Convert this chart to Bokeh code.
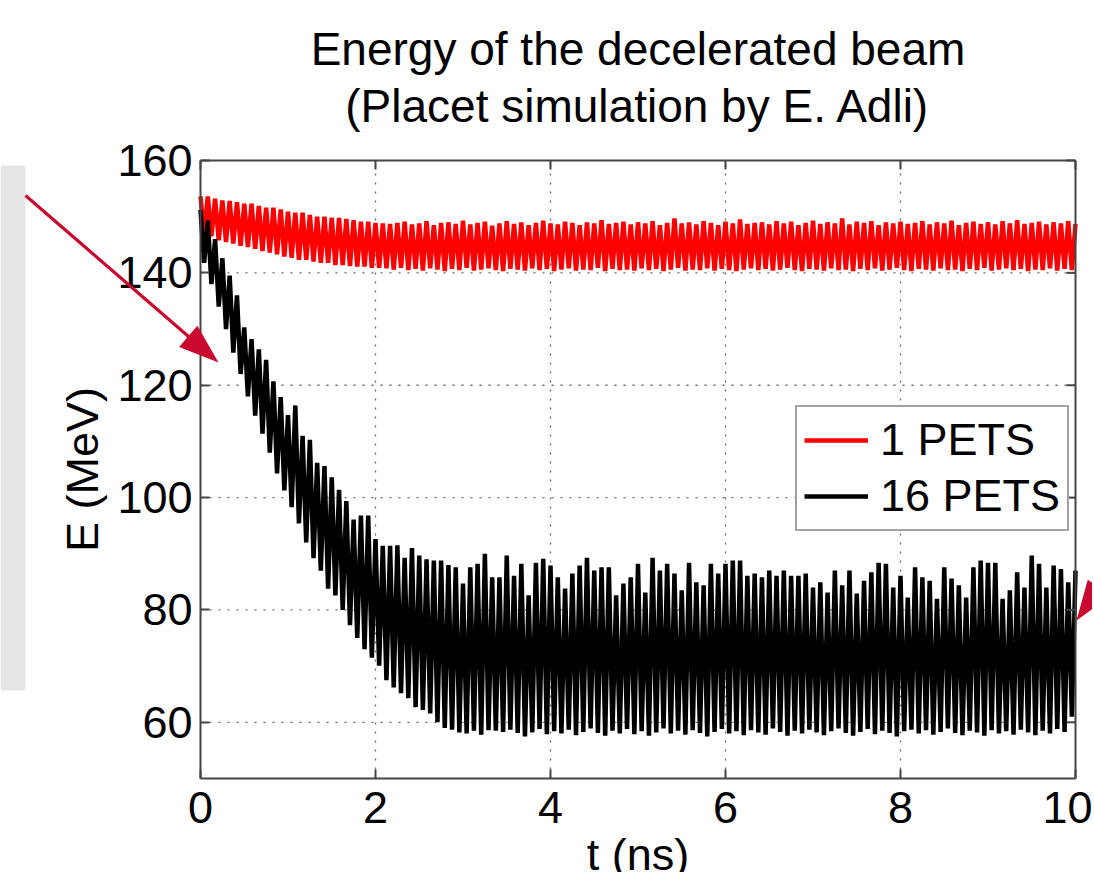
import numpy as np
from bokeh.plotting import figure
from bokeh.models import Range1d, FixedTicker, Label, PolyAnnotation, Legend, LegendItem
from bokeh.embed import file_html
from bokeh.resources import INLINE

# ---------------- data ----------------
CYCLES_PER_NS = 12          # oscillation: 12 cycles per ns (peak / trough alternate)
x_ticks = [0, 2, 4, 6, 8, 10]
y_ticks = [60, 80, 100, 120, 140, 160]
series_names = ["1 PETS", "16 PETS"]

red_peaks = [
    153.6, 153.6, 153.2, 152.9, 152.8, 152.6, 152.3, 152.3, 151.9, 151.6,
    151.6, 151.3, 150.9, 150.7, 150.7, 150.3, 150.0, 150.0, 149.8, 149.8,
    149.6, 149.4, 149.1, 149.1, 148.9, 148.8, 148.7, 148.9, 149.1, 148.6,
    148.8, 149.2, 148.5, 148.9, 149.0, 148.7, 149.3, 148.6, 148.9, 149.1,
    148.4, 148.8, 149.2, 148.7, 149.0, 148.5, 148.9, 149.3, 148.8, 148.6,
    149.1, 148.9, 148.5, 149.0, 148.8, 149.4, 148.7, 148.9, 149.1, 148.6,
    149.0, 148.8, 149.2, 148.5, 148.9, 149.7, 148.8, 149.0, 148.6, 149.2,
    148.9, 148.5, 149.1, 148.8, 149.5, 148.7, 148.9, 149.0, 148.6, 149.2,
    148.8, 149.1, 148.5, 148.9, 149.3, 148.7, 149.0, 148.8, 149.7, 148.6,
    149.1, 148.9, 149.2, 148.5, 149.0, 148.8, 149.1, 148.7, 148.9, 149.2,
    148.6, 149.0, 148.8, 149.3, 148.5, 148.9, 149.1, 148.7, 149.0, 148.6,
    149.2, 148.8, 149.4, 148.7, 148.9, 149.1, 148.6, 149.0, 148.8, 149.2,
    148.7,
]
red_troughs = [
    147.0, 146.5, 145.8, 145.5, 145.2, 144.8, 144.6, 144.3, 143.9, 143.6,
    143.3, 142.9, 142.7, 142.3, 142.3, 142.0, 141.8, 141.8, 141.4, 141.4,
    141.2, 141.1, 141.1, 140.9, 140.9, 140.8, 140.6, 140.9, 140.5, 140.7,
    140.4, 140.8, 140.6, 140.3, 140.7, 140.5, 140.9, 140.4, 140.6, 140.8,
    140.5, 140.3, 140.7, 140.6, 140.4, 140.8, 140.5, 140.7, 140.3, 140.6,
    140.8, 140.4, 140.6, 140.5, 140.9, 140.3, 140.7, 140.5, 140.6, 140.4,
    140.8, 140.5, 140.7, 140.3, 140.6, 140.9, 140.4, 140.6, 140.5, 140.8,
    140.4, 140.7, 140.5, 140.3, 140.6, 140.8, 140.5, 140.7, 140.4, 140.6,
    140.9, 140.5, 140.3, 140.7, 140.6, 140.4, 140.8, 140.5, 140.6, 140.3,
    140.7, 140.5, 140.8, 140.4, 140.6, 140.9, 140.5, 140.3, 140.7, 140.6,
    140.4, 140.8, 140.5, 140.6, 140.3, 140.7, 140.5, 140.9, 140.4, 140.6,
    140.8, 140.5, 140.7, 140.3, 140.6, 140.5, 140.8, 140.4, 140.7, 140.5,
]
black_peaks = [
    151.2, 149.3, 146.0, 142.6, 139.5, 136.0, 130.3, 128.2, 126.4, 124.5,
    120.7, 117.9, 114.7, 116.4, 111.0, 110.3, 106.2, 105.6, 103.6, 101.4,
    99.4, 96.1, 96.8, 96.8, 92.6, 91.4, 91.4, 91.5, 89.3, 91.0,
    89.7, 89.0, 88.8, 88.8, 88.0, 87.6, 84.7, 87.6, 88.2, 90.0,
    85.8, 85.8, 89.7, 86.1, 88.2, 82.6, 88.4, 89.1, 87.9, 85.8,
    83.8, 86.5, 87.9, 89.3, 87.0, 87.6, 87.6, 82.6, 84.7, 85.8,
    88.2, 83.1, 89.3, 87.0, 88.2, 86.5, 83.5, 88.4, 84.9, 84.4,
    88.2, 86.5, 88.2, 88.8, 88.8, 86.1, 86.5, 85.8, 87.0, 86.1,
    87.0, 86.1, 86.1, 86.5, 84.0, 84.9, 83.1, 87.0, 84.4, 87.0,
    82.9, 85.2, 86.7, 88.4, 88.2, 84.0, 86.1, 82.2, 87.6, 85.8,
    85.2, 82.0, 87.6, 85.6, 84.4, 82.2, 87.6, 88.8, 88.4, 88.4,
    82.0, 83.5, 86.7, 84.0, 89.7, 88.2, 84.0, 87.9, 87.3, 84.9,
    87.0,
]
black_troughs = [
    141.8, 138.0, 134.0, 130.0, 125.8, 122.0, 118.0, 114.6, 111.4, 108.0,
    104.3, 101.3, 98.3, 95.4, 92.0, 89.2, 87.0, 83.8, 82.6, 80.0,
    77.3, 75.0, 73.0, 71.5, 70.1, 67.5, 66.2, 65.2, 64.3, 62.7,
    62.2, 61.6, 60.0, 59.0, 58.7, 58.2, 58.0, 58.5, 57.8, 58.6,
    58.5, 58.3, 58.7, 58.1, 57.5, 58.2, 58.8, 57.9, 58.4, 58.0,
    58.7, 57.7, 58.3, 58.9, 58.1, 57.6, 58.5, 58.0, 58.8, 57.9,
    58.4, 57.6, 58.2, 58.9, 58.0, 58.5, 57.8, 58.6, 58.1, 57.5,
    58.3, 58.8, 58.0, 58.4, 57.7, 58.6, 58.2, 57.8, 58.9, 58.3,
    57.6, 58.5, 58.0, 58.7, 58.2, 57.7, 58.4, 58.9, 58.1, 57.6,
    58.3, 58.8, 57.9, 58.5, 58.1, 57.5, 58.4, 58.7, 58.0, 58.6,
    57.8, 58.3, 58.9, 58.1, 57.7, 58.5, 58.2, 57.6, 58.6, 58.0,
    58.4, 57.8, 58.7, 58.2, 57.7, 58.5, 58.0, 58.8, 58.3, 61.0,
]


def interleave(peaks, troughs):
    vals = []
    for i, pk in enumerate(peaks):
        vals.append(pk)
        if i < len(troughs):
            vals.append(troughs[i])
    return vals


def sample_times(n):
    return [i / (2 * CYCLES_PER_NS) for i in range(n)]


red_vals = interleave(red_peaks, red_troughs)
black_vals = interleave(black_peaks, black_troughs)
red_t = sample_times(len(red_vals))
black_t = sample_times(len(black_vals))

# ---------------- layout ----------------
FONT = "Liberation Sans"
W, H = 1092, 872
XMIN, XMAX, YMIN, YMAX = 0, 10, 50, 160        # the axes box
BOX_L, BOX_R, BOX_T, BOX_B = 200, 1075, 160, 778  # where the axes box sits (px)
PX_PER_X = (BOX_R - BOX_L) / (XMAX - XMIN)
PX_PER_Y = (BOX_B - BOX_T) / (YMAX - YMIN)
AX_COLOR = "#454545"
GRID_COLOR = "#6a6a6a"

x_range = Range1d(XMIN - BOX_L / PX_PER_X, XMAX + (W - BOX_R) / PX_PER_X)
y_range = Range1d(YMIN - (H - BOX_B) / PX_PER_Y, YMAX + BOX_T / PX_PER_Y)

p = figure(width=W, height=H, x_range=x_range, y_range=y_range,
           output_backend="svg", toolbar_location=None, tools="",
           min_border=0, background_fill_color="white", border_fill_color="white",
           outline_line_color=None)
p.grid.visible = False


# pixel position on the page -> data coords (for decorations around the axes)
def X(sx):
    return XMIN + (sx - BOX_L) / PX_PER_X


def Y(sy):
    return YMAX - (sy - BOX_T) / PX_PER_Y


TICK_LEN = 9
for ax, ticks, loc, bnds in ((p.xaxis[0], x_ticks, YMIN, (XMIN, XMAX)),
                             (p.yaxis[0], y_ticks, XMIN, (YMIN, YMAX))):
    ax.ticker = FixedTicker(ticks=ticks)
    ax.fixed_location = loc
    ax.bounds = bnds
    ax.axis_line_color = AX_COLOR
    ax.axis_line_width = 2
    ax.major_tick_in = TICK_LEN
    ax.major_tick_out = 0
    ax.major_tick_line_color = AX_COLOR
    ax.major_tick_line_width = 2
    ax.minor_tick_line_color = None
    ax.major_label_text_font = FONT
    ax.major_label_text_font_size = "45px"
    ax.major_label_text_color = "black"
p.xaxis[0].major_label_standoff = 13
p.yaxis[0].major_label_standoff = 8

p.yaxis[0].axis_label = "E (MeV)"
p.yaxis[0].axis_label_text_font = FONT
p.yaxis[0].axis_label_text_font_size = "45px"
p.yaxis[0].axis_label_text_font_style = "normal"
p.yaxis[0].axis_label_text_color = "black"
p.yaxis[0].axis_label_standoff = 6

# grey slide panel at the far left (behind everything)
p.add_layout(PolyAnnotation(xs=[X(0), X(25), X(25), X(0)],
                            ys=[Y(165), Y(165), Y(690), Y(690)],
                            fill_color="#e6e6e6", fill_alpha=1, line_color=None,
                            level="underlay"))

# dotted grid inside the axes box only
inner_x = [t for t in x_ticks if XMIN < t < XMAX]
inner_y = [t for t in y_ticks if YMIN < t < YMAX]
p.segment(x0=inner_x, y0=[YMIN] * len(inner_x), x1=inner_x, y1=[YMAX] * len(inner_x),
          line_color=GRID_COLOR, line_width=1.3, line_dash="2 7")
p.segment(x0=[XMIN] * len(inner_y), y0=inner_y, x1=[XMAX] * len(inner_y), y1=inner_y,
          line_color=GRID_COLOR, line_width=1.3, line_dash="2 7")

# data
r_red = p.line(red_t, red_vals, line_color="#ff0000", line_width=4.5)
r_black = p.line(black_t, black_vals, line_color="#000000", line_width=4.5)

# top and right box edges with inward ticks (MATLAB style box)
p.segment(x0=[XMIN, XMAX], y0=[YMAX, YMIN], x1=[XMAX, XMAX], y1=[YMAX, YMAX],
          line_color=AX_COLOR, line_width=2)
p.segment(x0=x_ticks, y0=[YMAX] * len(x_ticks), x1=x_ticks,
          y1=[YMAX - TICK_LEN / PX_PER_Y] * len(x_ticks),
          line_color=AX_COLOR, line_width=2)
p.segment(x0=[XMAX] * len(y_ticks), y0=y_ticks,
          x1=[XMAX - TICK_LEN / PX_PER_X] * len(y_ticks), y1=y_ticks,
          line_color=AX_COLOR, line_width=2)

legend = Legend(items=[LegendItem(label=series_names[0], renderers=[r_red]),
                       LegendItem(label=series_names[1], renderers=[r_black])],
                location=(795, H - 531), margin=0, padding=7, spacing=4,
                glyph_width=64, glyph_height=50, label_height=50,
                label_standoff=12, label_text_font=FONT,
                label_text_font_size="45px", label_text_color="black",
                border_line_color=AX_COLOR, border_line_width=2,
                background_fill_color="white", background_fill_alpha=1)
p.add_layout(legend)

# title and x label (baselines placed from the picture)
p.add_layout(Label(x=(XMIN + XMAX) / 2, y=Y(48.5), text="Energy of the decelerated beam",
                   text_align="center", text_baseline="alphabetic",
                   text_font=FONT, text_font_size="46px", text_color="black"))
p.add_layout(Label(x=(XMIN + XMAX) / 2, y=Y(105.5), text="(Placet simulation by E. Adli)",
                   text_align="center", text_baseline="alphabetic",
                   text_font=FONT, text_font_size="46px", text_color="black"))
p.add_layout(Label(x=(XMIN + XMAX) / 2, y=Y(854), text="t (ns)",
                   text_align="center", text_baseline="alphabetic",
                   text_font=FONT, text_font_size="45px", text_color="black"))

# red slide arrows
ARROW = "#c8082e"


def arrow_shape(tail, tip, head_len=40, head_half=14, body_half=1.6):
    t = np.array(tail, dtype=float)
    h = np.array(tip, dtype=float)
    u = (h - t) / np.hypot(*(h - t))
    n = np.array([-u[1], u[0]])
    base = h - head_len * u
    pts = [t + body_half * n, base + body_half * n, base + head_half * n, h,
           base - head_half * n, base - body_half * n, t - body_half * n]
    return [X(q[0]) for q in pts], [Y(q[1]) for q in pts]


xs1, ys1 = arrow_shape((25, 195), (218, 362))
p.add_layout(PolyAnnotation(xs=xs1, ys=ys1, fill_color=ARROW, fill_alpha=1,
                            line_color=None, level="overlay"))
xs2, ys2 = arrow_shape((1180, 470), (1076, 620))
p.add_layout(PolyAnnotation(xs=xs2, ys=ys2, fill_color=ARROW, fill_alpha=1,
                            line_color=None, level="overlay"))

open("out.html", "w").write(file_html(p, INLINE))
